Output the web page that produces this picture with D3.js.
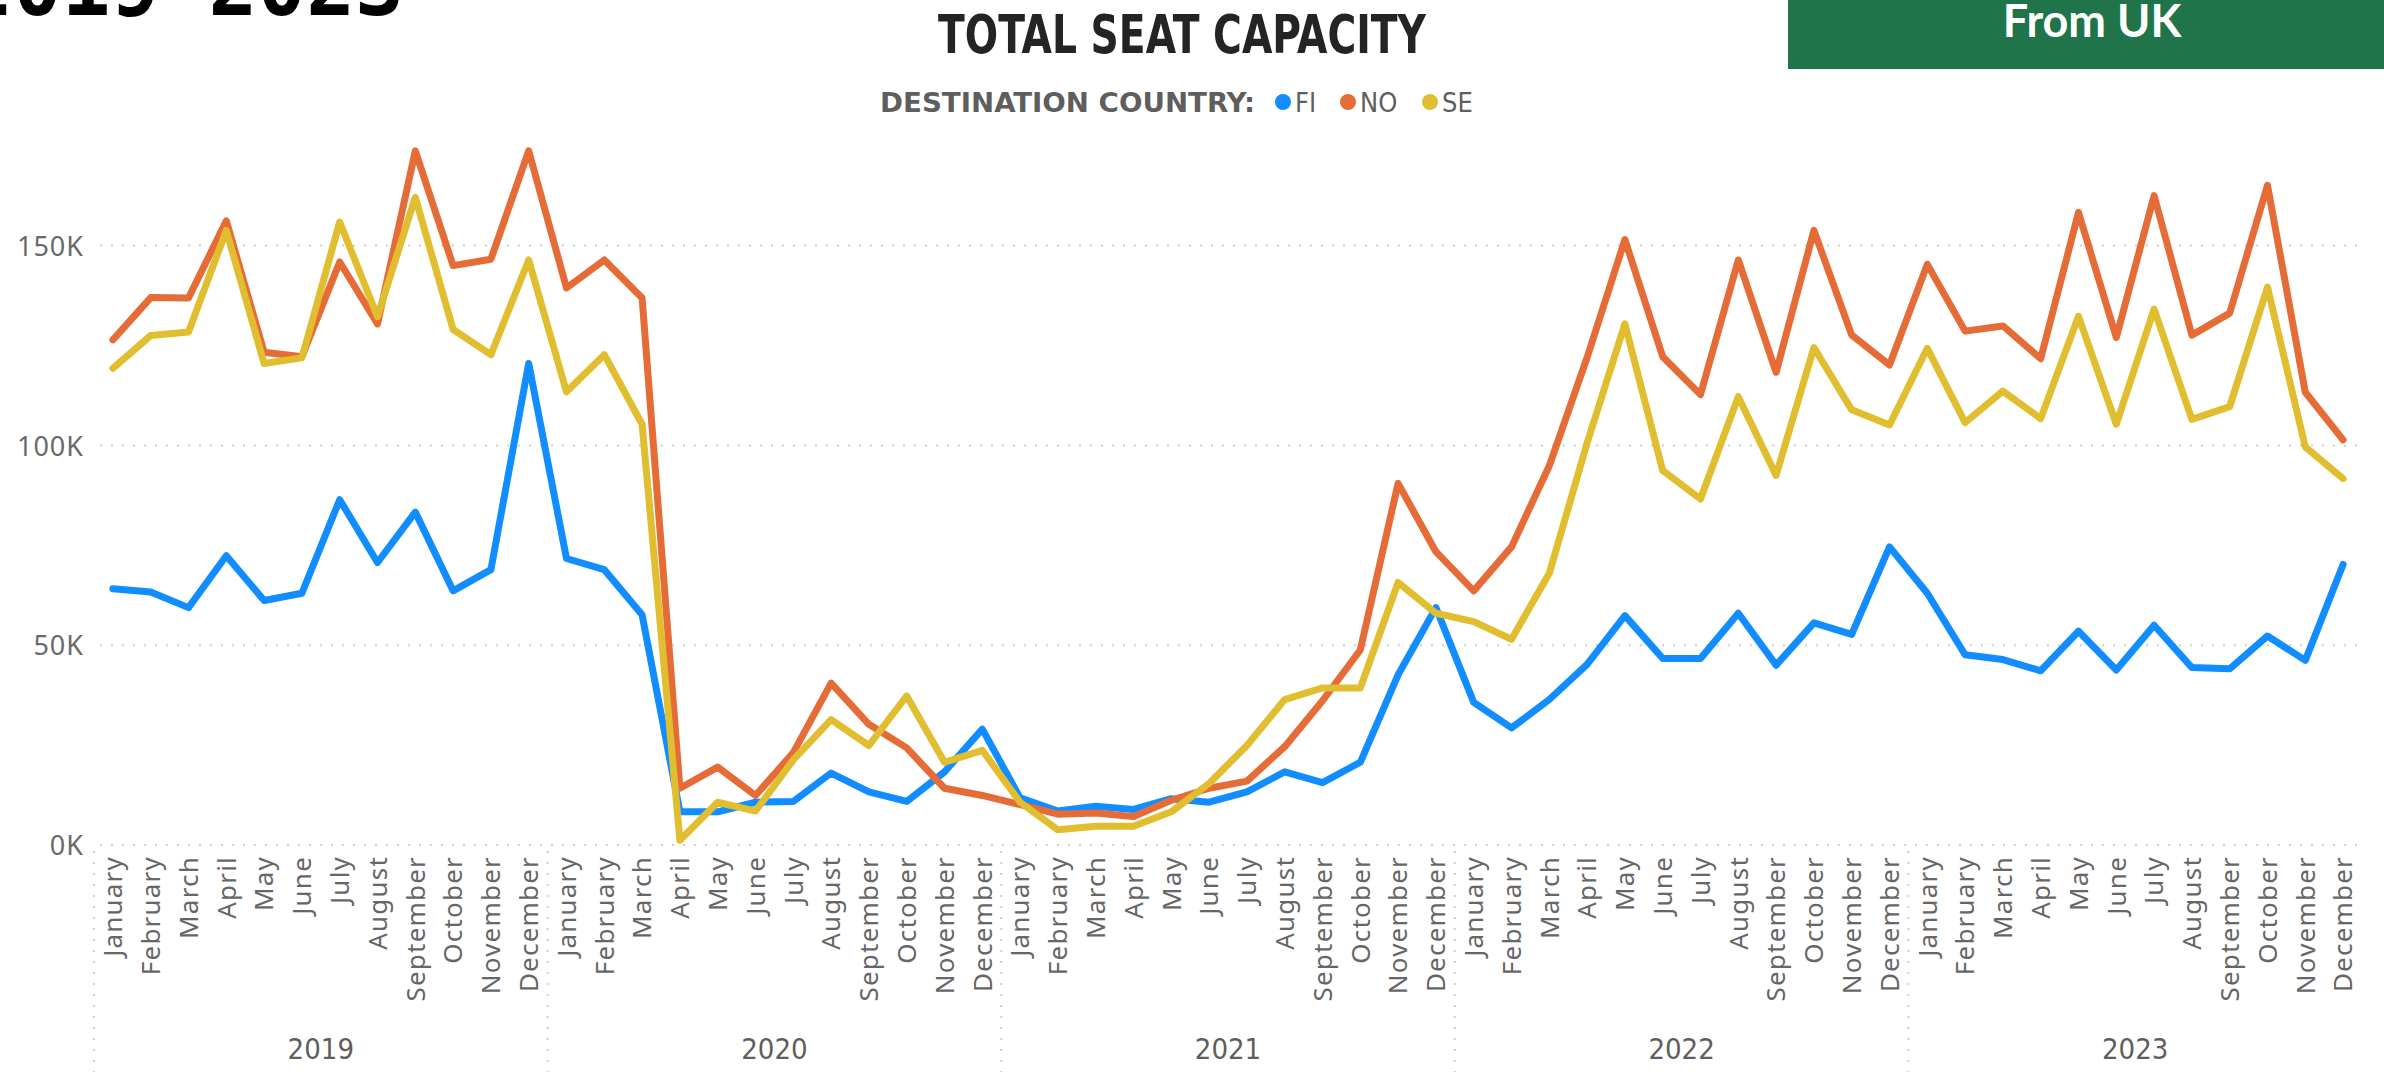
<!DOCTYPE html>
<html>
<head>
<meta charset="utf-8">
<script src="https://cdn.jsdelivr.net/npm/d3@7"></script>
<style>
  html, body { margin: 0; padding: 0; background: #fff; }
  svg { display: block; }
</style>
</head>
<body>
<svg id="chart" width="2384" height="1072"></svg>
<script>
'use strict';

// data (thousands of seats)
const months = ['January', 'February', 'March', 'April', 'May', 'June', 'July',
  'August', 'September', 'October', 'November', 'December'];
const years = ['2019', '2020', '2021', '2022', '2023'];
const yTicks = [0, 50000, 100000, 150000];

const fiValues = [
  64.1, 63.3, 59.4, 72.4, 61.2, 63.0, 86.4, 70.7, 83.3, 63.6, 68.9, 120.5,
  71.7, 68.9, 57.6, 8.3, 8.3, 10.7, 10.9, 18.0, 13.3, 10.9, 18.3, 29.0,
  11.8, 8.5, 9.7, 8.9, 11.6, 10.7, 13.3, 18.3, 15.6, 20.7, 42.6, 59.4,
  35.7, 29.3, 36.4, 45.2, 57.4, 46.7, 46.7, 58.0, 45.0, 55.6, 52.7, 74.6,
  63.0, 47.6, 46.4, 43.6, 53.5, 43.8, 55.0, 44.4, 44.1, 52.3, 46.2, 70.2
];
const noValues = [
  126.4, 137.0, 136.9, 156.2, 123.3, 122.2, 145.9, 130.4, 173.7, 145.0, 146.6, 173.7,
  139.4, 146.4, 136.9, 14.2, 19.5, 12.4, 23.1, 40.5, 30.2, 24.3, 14.2, 12.4,
  10.1, 7.7, 8.0, 7.1, 11.2, 14.2, 16.0, 24.6, 36.1, 48.8, 90.5, 73.4,
  63.6, 74.6, 94.9, 122.0, 151.5, 122.2, 112.7, 146.4, 118.3, 153.8, 127.6, 120.1,
  145.3, 128.6, 129.9, 121.7, 158.3, 127.0, 162.5, 127.6, 133.1, 165.1, 113.3, 101.4
];
const seValues = [
  119.3, 127.5, 128.4, 153.8, 120.5, 121.9, 155.9, 132.2, 162.1, 129.0, 122.7, 146.4,
  113.4, 122.7, 105.3, 1.2, 10.7, 8.5, 21.3, 31.4, 24.9, 37.3, 20.7, 23.7,
  10.7, 3.8, 4.7, 4.7, 8.3, 15.4, 24.9, 36.4, 39.3, 39.3, 65.7, 58.0,
  55.9, 51.5, 68.0, 100.6, 130.4, 93.7, 86.6, 112.2, 92.5, 124.5, 108.9, 105.1,
  124.3, 105.7, 113.6, 106.7, 132.3, 105.3, 134.1, 106.5, 109.7, 139.6, 99.6, 91.7
];

const seriesNames = ['FI', 'NO', 'SE'];
const seriesColors = ['#118DFF', '#E66C37', '#E0BE30'];

const LEFT = 94;
const RIGHT = 2362;
const Y_ZERO = 845;
const Y_150 = 245.6;

let svg = d3.select('#chart');

let periods = d3.range(years.length * months.length);

let x = d3.scaleBand()
  .domain(periods)
  .range([LEFT, RIGHT])
  .padding(0);

let y = d3.scaleLinear()
  .domain([0, 150000])
  .range([Y_ZERO, Y_150]);

let cx = function(i) { return x(i) + x.bandwidth() / 2; };

// top-left heading, mostly cut off by the frame
svg.append('text')
  .attr('x', -36)
  .attr('y', 15)
  .attr('textLength', 440)
  .attr('lengthAdjust', 'spacingAndGlyphs')
  .style('font-family', 'DejaVu Sans Mono')
  .style('font-weight', 'bold')
  .style('font-size', '86px')
  .attr('fill', '#000')
  .text('2019-2023');

// green badge
svg.append('rect')
  .attr('x', 1788)
  .attr('y', 0)
  .attr('width', 596)
  .attr('height', 69)
  .attr('fill', '#1F744A');
svg.append('text')
  .attr('x', 2092)
  .attr('y', 37)
  .attr('text-anchor', 'middle')
  .style('font-family', 'Lato')
  .style('font-weight', 'bold')
  .style('font-size', '45px')
  .attr('fill', '#fff')
  .text('From UK');

// title
svg.append('text')
  .attr('x', 938)
  .attr('y', 53)
  .attr('textLength', 488)
  .attr('lengthAdjust', 'spacingAndGlyphs')
  .style('font-family', 'DejaVu Sans Condensed')
  .style('font-weight', 'bold')
  .style('font-size', '54px')
  .attr('fill', '#252423')
  .text('TOTAL SEAT CAPACITY');

// legend
let legend = svg.append('g')
  .style('font-family', 'DejaVu Sans Condensed')
  .style('font-size', '27px')
  .attr('fill', '#605E5C');
legend.append('text')
  .attr('x', 880)
  .attr('y', 112)
  .attr('textLength', 375)
  .attr('lengthAdjust', 'spacingAndGlyphs')
  .style('font-weight', 'bold')
  .text('DESTINATION COUNTRY:');
let legendPos = [1283, 1348, 1430];
seriesNames.forEach(function(name, k) {
  legend.append('circle')
    .attr('cx', legendPos[k])
    .attr('cy', 102)
    .attr('r', 8)
    .attr('fill', seriesColors[k]);
  legend.append('text')
    .attr('x', legendPos[k] + 12)
    .attr('y', 112)
    .text(name);
});

// horizontal dotted grid
svg.append('g')
  .selectAll('line')
  .data(yTicks)
  .enter().append('line')
    .attr('x1', LEFT + 6)
    .attr('x2', RIGHT)
    .attr('y1', function(d) { return y(d); })
    .attr('y2', function(d) { return y(d); })
    .attr('stroke', '#CFCFCF')
    .attr('stroke-width', 2)
    .attr('stroke-dasharray', '2,9');

// vertical dotted year separators below the axis
let sepData = d3.range(years.length).map(function(k) { return x(k * 12); });
svg.append('g')
  .selectAll('line')
  .data(sepData)
  .enter().append('line')
    .attr('x1', function(d) { return d; })
    .attr('x2', function(d) { return d; })
    .attr('y1', Y_ZERO + 6)
    .attr('y2', 1072)
    .attr('stroke', '#CFCFCF')
    .attr('stroke-width', 2)
    .attr('stroke-dasharray', '2,9');

// y axis
let yAxis = svg.append('g')
  .attr('transform', 'translate(84,0)')
  .call(d3.axisLeft(y)
    .tickValues(yTicks)
    .tickSize(0)
    .tickPadding(0)
    .tickFormat(function(d) { return (d / 1000) + 'K'; }));
yAxis.select('.domain').remove();
yAxis.selectAll('text')
  .style('font-family', 'Noto Sans')
  .style('font-size', '27px')
  .style('letter-spacing', '1px')
  .attr('fill', '#6A6A6A')
  .attr('dy', '0.36em');

// x axis: month labels
let xAxis = svg.append('g')
  .attr('transform', 'translate(0,' + (Y_ZERO + 11) + ')')
  .call(d3.axisBottom(x)
    .tickSize(0)
    .tickPadding(0)
    .tickFormat(function(i) { return months[i % 12]; }));
xAxis.select('.domain').remove();
xAxis.selectAll('text')
  .style('font-family', 'Noto Sans')
  .style('font-size', '26px')
  .style('letter-spacing', '1.2px')
  .attr('fill', '#666666')
  .attr('text-anchor', 'end')
  .attr('transform', 'rotate(-90)')
  .attr('x', 0)
  .attr('y', 0)
  .attr('dy', '0.36em');

// year labels
svg.append('g')
  .selectAll('text')
  .data(years)
  .enter().append('text')
    .attr('x', function(d, k) { return x(k * 12) + x.bandwidth() * 6; })
    .attr('y', 1059)
    .attr('text-anchor', 'middle')
    .style('font-family', 'DejaVu Sans Condensed')
    .style('font-size', '29px')
    .attr('fill', '#605E5C')
    .text(function(d) { return d; });

// lines
let allSeries = [fiValues, noValues, seValues];
let line = d3.line()
  .x(function(d, i) { return cx(i); })
  .y(function(d) { return y(d * 1000); });

svg.append('g')
  .selectAll('path')
  .data(allSeries)
  .enter().append('path')
    .attr('d', function(d) { return line(d); })
    .attr('fill', 'none')
    .attr('stroke', function(d, k) { return seriesColors[k]; })
    .attr('stroke-width', 7)
    .attr('stroke-linejoin', 'round')
    .attr('stroke-linecap', 'round');
</script>
</body>
</html>
